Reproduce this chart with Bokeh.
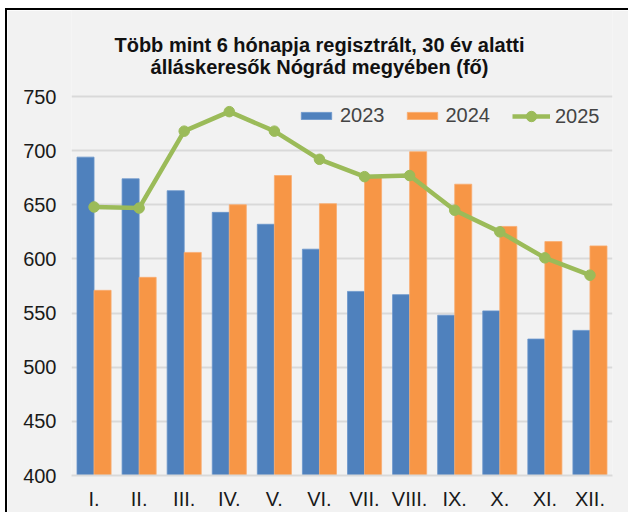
from bokeh.plotting import figure
from bokeh.models import ColumnDataSource, Label, Legend, LegendItem, FactorRange, FixedTicker, Range1d
from bokeh.transform import dodge
from bokeh.embed import file_html
from bokeh.resources import INLINE

months = ["I.", "II.", "III.", "IV.", "V.", "VI.", "VII.", "VIII.", "IX.", "X.", "XI.", "XII."]
y2023 = [694, 674, 663, 643, 632, 609, 570, 567, 548, 552, 526, 534]
y2024 = [571, 583, 606, 650, 677, 651, 675, 699, 669, 630, 616, 612]
y2025 = [648, 647, 718, 736, 718, 692, 676, 677, 645, 625, 601, 585]
y_ticks = [400, 450, 500, 550, 600, 650, 700, 750]
title_lines = ["Több mint 6 hónapja regisztrált, 30 év alatti", "álláskeresők Nógrád megyében (fő)"]

src = ColumnDataSource(dict(m=months, a=y2023, b=y2024, c=y2025))

BG = "#F2F2F2"
FONT = "Liberation Sans"
FS = "20px"

# plot area 379 px tall for the 400..750 scale; the frame is extended upward
# by 86 px so the two title lines (screen-positioned labels) sit inside it
PLOT_H, TOP_H = 379, 86
y_lo, y_hi = y_ticks[0], y_ticks[-1]
y_top = y_hi + TOP_H * (y_hi - y_lo) / PLOT_H

p = figure(x_range=FactorRange(*months, range_padding=0), y_range=Range1d(y_lo, y_top),
           frame_width=541, frame_height=PLOT_H + TOP_H, output_backend="svg", toolbar_location=None,
           min_border_left=64, min_border_right=16, min_border_top=0, min_border_bottom=8)
p.margin = (8, 0, 0, 5)
p.background_fill_color = BG
p.border_fill_color = BG
p.outline_line_color = None
p.styles = {"border-top": "2px solid black", "border-left": "2px solid black"}

bw = 0.378
r1 = p.vbar(x=dodge("m", -bw / 2, range=p.x_range), top="a", bottom=y_lo, width=bw, source=src,
            fill_color="#4F81BD", line_color="#6A95CC", line_width=0.8)
r2 = p.vbar(x=dodge("m", bw / 2, range=p.x_range), top="b", bottom=y_lo, width=bw, source=src,
            fill_color="#F79646", line_color="#F9AC70", line_width=0.8)
r3 = p.line(x="m", y="c", source=src, line_color="#9BBB59", line_width=4.5)
r4 = p.scatter(x="m", y="c", source=src, size=10.5, fill_color="#9BBB59", line_color="#9BBB59")

p.yaxis.ticker = FixedTicker(ticks=y_ticks)
p.ygrid.grid_line_color = "#D9D9D9"
p.ygrid.grid_line_width = 2
p.xgrid.grid_line_color = None

for ax in (p.xaxis[0], p.yaxis[0]):
    ax.axis_line_color = None
    ax.major_tick_line_color = None
    ax.minor_tick_line_color = None
    ax.major_label_text_font = FONT
    ax.major_label_text_font_size = FS
    ax.major_label_text_color = "#1a1a1a"
p.xaxis.axis_line_color = "#D9D9D9"
p.xaxis.axis_line_width = 2
p.xaxis.major_label_standoff = 6
p.yaxis.major_label_standoff = 9

legend_style = dict(orientation="horizontal", background_fill_alpha=0, border_line_color=None,
                    label_text_font=FONT, label_text_font_size=FS,
                    glyph_width=38, spacing=18, label_standoff=5, padding=0, margin=0)
legend_bars = Legend(items=[LegendItem(label="2023", renderers=[r1]),
                            LegendItem(label="2024", renderers=[r2])],
                     location=(226, 348), glyph_height=9, **legend_style)
legend_line = Legend(items=[LegendItem(label="2025", renderers=[r3, r4])],
                     location=(441, 346), glyph_height=26, **legend_style)
p.add_layout(legend_bars, "center")
p.add_layout(legend_line, "center")

for txt, yb in zip(title_lines, [431, 409]):
    p.add_layout(Label(x=248, y=yb, x_units="screen", y_units="screen", text=txt,
                       text_align="center", text_baseline="alphabetic",
                       text_font=FONT, text_font_style="bold", text_font_size=FS,
                       text_color="#111111"))

open("out.html", "w").write(file_html(p, INLINE))
